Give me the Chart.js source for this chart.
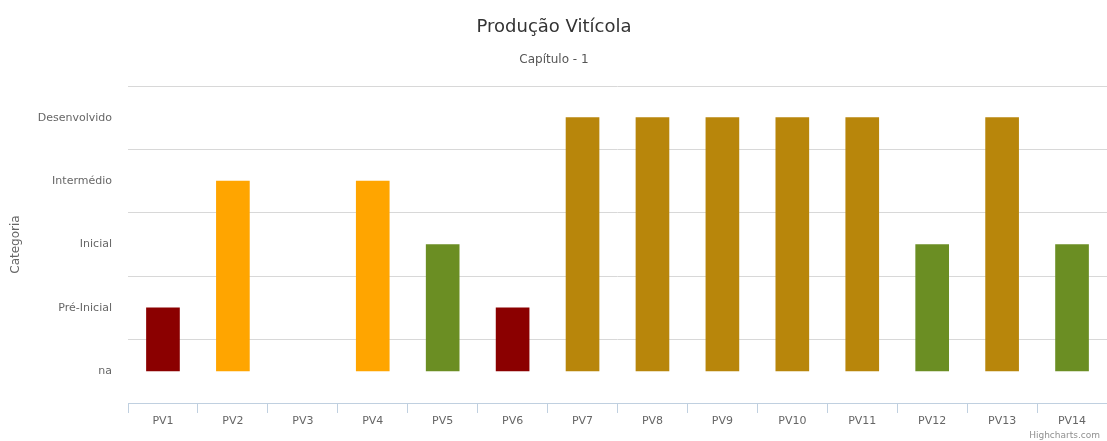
<!DOCTYPE html>
<html>
<head>
<meta charset="utf-8">
<script src="https://cdn.jsdelivr.net/npm/chart.js@4"></script>
<style>
  html, body { margin: 0; padding: 0; background: #fff; }
  #wrap { width: 1107px; height: 441px; position: relative; }
</style>
</head>
<body>
<div id="wrap"><canvas id="chart"></canvas></div>
<script>
// Dados do gráfico
const categories = ['PV1', 'PV2', 'PV3', 'PV4', 'PV5', 'PV6', 'PV7', 'PV8', 'PV9', 'PV10', 'PV11', 'PV12', 'PV13', 'PV14'];
const levelLabels = ['na', 'Pré-Inicial', 'Inicial', 'Intermédio', 'Desenvolvido'];
const levels = [1, 3, 0, 3, 2, 1, 4, 4, 4, 4, 4, 2, 4, 2];

// Cor de cada nível (índice = nível); "na" não aparece
const levelColors = ['rgba(0,0,0,0)', '#8B0000', '#6B8E23', '#FFA500', '#B8860B'];

const FONT = '"DejaVu Sans", "Lucida Grande", sans-serif';

// Títulos e crédito desenhados à mão, no estilo Highcharts
const textPlugin = {
    id: 'textPlugin',
    afterDraw(chart) {
        const ctx = chart.ctx;
        ctx.save();
        ctx.textAlign = 'center';
        ctx.textBaseline = 'middle';
        ctx.fillStyle = '#333333';
        ctx.font = '18px ' + FONT;
        ctx.fillText('Produção Vitícola', 554, 27);
        ctx.fillStyle = '#555555';
        ctx.font = '12px ' + FONT;
        ctx.fillText('Capítulo - 1', 554, 60);
        ctx.textAlign = 'right';
        ctx.fillStyle = '#909090';
        ctx.font = '9px ' + FONT;
        ctx.fillText('Highcharts.com', 1100, 436);
        ctx.restore();
    }
};

new Chart(document.getElementById('chart'), {
    type: 'bar',
    data: {
        labels: categories,
        datasets: [{
            label: 'Categoria',
            data: levels,
            backgroundColor: levels.map(v => levelColors[v]),
            borderWidth: 0,
            barThickness: 33
        }]
    },
    options: {
        responsive: true,
        maintainAspectRatio: false,
        animation: false,
        layout: { padding: { top: 86, right: 0, left: 0, bottom: 0 } },
        plugins: {
            legend: { display: false },
            tooltip: { enabled: false }
        },
        scales: {
            x: {
                offset: true,
                grid: {
                    offset: true,
                    drawOnChartArea: false,
                    drawTicks: true,
                    tickLength: 10,
                    color: '#C0D0E0'
                },
                border: { display: true, color: '#C0D0E0', width: 1 },
                ticks: { color: '#666666', font: { family: FONT, size: 11 }, padding: 2, maxRotation: 0 },
                afterFit: (s) => { s.height = 38; }
            },
            y: {
                min: -0.5,
                max: 4.5,
                grid: {
                    drawTicks: false,
                    color: (c) => {
                        const v = c.tick ? c.tick.value : 0;
                        if (v <= -0.5) return 'rgba(0,0,0,0)';
                        return Math.abs(v - Math.round(v)) > 0.1 ? '#D8D8D8' : 'rgba(0,0,0,0)';
                    }
                },
                border: { display: false },
                ticks: {
                    stepSize: 0.5,
                    autoSkip: false,
                    color: '#666666',
                    padding: 16,
                    font: { family: FONT, size: 11 },
                    callback: (v) => Number.isInteger(v) ? levelLabels[v] : ''
                },
                title: {
                    display: true,
                    text: 'Categoria',
                    color: '#666666',
                    padding: { top: 9, bottom: 0 },
                    font: { family: FONT, size: 12 }
                },
                afterFit: (s) => { s.width = 128; }
            }
        }
    },
    plugins: [textPlugin]
});
</script>
</body>
</html>
